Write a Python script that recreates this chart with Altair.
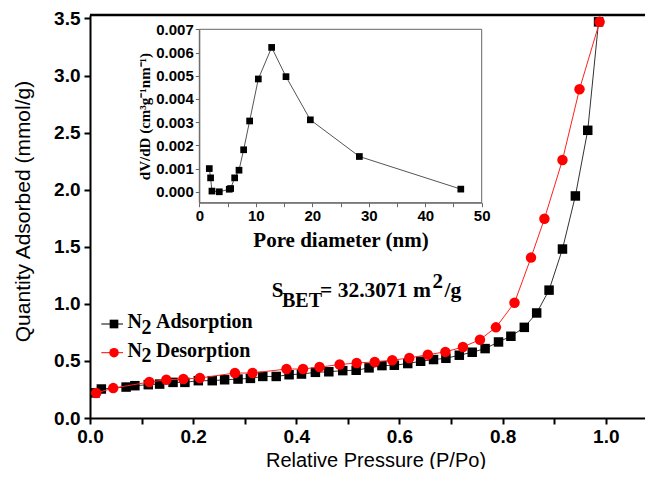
import altair as alt
import pandas as pd

# ---------------- data ----------------
ADS_P = [0.010, 0.022, 0.070, 0.087, 0.113, 0.135, 0.161, 0.184, 0.210, 0.237,
         0.261, 0.287, 0.311, 0.335, 0.361, 0.386, 0.410, 0.437, 0.463, 0.490,
         0.516, 0.541, 0.566, 0.590, 0.616, 0.641, 0.666, 0.690, 0.716, 0.741,
         0.766, 0.792, 0.816, 0.842, 0.866, 0.890, 0.916, 0.941, 0.965, 0.986]
ADS_Q = [0.220, 0.254, 0.271, 0.283, 0.292, 0.297, 0.312, 0.312, 0.327, 0.327,
         0.335, 0.341, 0.347, 0.364, 0.364, 0.379, 0.385, 0.400, 0.405, 0.415,
         0.418, 0.439, 0.459, 0.462, 0.477, 0.497, 0.512, 0.523, 0.550, 0.576,
         0.608, 0.666, 0.716, 0.794, 0.920, 1.120, 1.480, 1.945, 2.520, 3.470]

DES_P = [0.012, 0.045, 0.115, 0.148, 0.181, 0.213, 0.281, 0.315, 0.381, 0.413,
         0.445, 0.484, 0.517, 0.552, 0.586, 0.619, 0.655, 0.689, 0.723, 0.756,
         0.787, 0.823, 0.855, 0.881, 0.916, 0.949, 0.988]
DES_Q = [0.219, 0.262, 0.315, 0.335, 0.341, 0.350, 0.394, 0.394, 0.429, 0.429,
         0.446, 0.468, 0.482, 0.491, 0.506, 0.526, 0.555, 0.579, 0.622, 0.686,
         0.794, 1.010, 1.405, 1.745, 2.260, 2.880, 3.470]

PORE_D = [1.77, 2.00, 2.24, 3.54, 5.30, 5.55, 6.26, 7.03, 7.85, 8.91,
          10.45, 12.81, 15.35, 19.66, 28.34, 46.30]
PORE_DV = [0.00100, 0.00060, 0.00003, 0.00000, 0.00011, 0.00014, 0.00060,
           0.00093, 0.00181, 0.00305, 0.00486, 0.00622, 0.00496, 0.00310,
           0.00152, 0.000115]

X_TICKS = [0.0, 0.1, 0.2, 0.3, 0.4, 0.5, 0.6, 0.7, 0.8, 0.9, 1.0]
Y_TICKS = [0.0, 0.25, 0.5, 0.75, 1.0, 1.25, 1.5, 1.75, 2.0, 2.25, 2.5, 2.75,
           3.0, 3.25, 3.5]
IX_TICKS = [0, 5, 10, 15, 20, 25, 30, 35, 40, 45, 50]
IY_TICKS = [0.0, 0.0005, 0.001, 0.0015, 0.002, 0.0025, 0.003, 0.0035, 0.004,
            0.0045, 0.005, 0.0055, 0.006, 0.0065, 0.007]

SERIES = ["Adsorption", "Desorption"]
SBET = ["S", "BET", "= 32.3071 m", "2", "/g"]

# ---------------- layout ----------------
W, H = 555, 403
XMAX, YMAX = 1.076, 3.53
IYMIN, IYMAX = -0.00047, 0.007
INSET_X = [109.3, 391.7]
INSET_Y = [187.7, 14.3]

ads = pd.DataFrame({"p": ADS_P, "q": ADS_Q})
des = pd.DataFrame({"p": DES_P, "q": DES_Q})
pore = pd.DataFrame({"d": PORE_D, "v": PORE_DV})

xs = alt.Scale(domain=[0, XMAX], nice=False, zero=False)
ys = alt.Scale(domain=[0, YMAX], nice=False)

SANS = "Liberation Sans"
SERIF = "Liberation Serif"

xaxis = alt.Axis(values=X_TICKS, labelExpr="round(datum.value*10) % 2 == 0 ? format(datum.value, '.1f') : ''",
                 orient="bottom", grid=False, domainColor="black", domainWidth=2,
                 tickColor="black", tickWidth=2, tickSize=6,
                 labelFont=SANS, labelFontWeight="bold", labelFontSize=19, labelColor="black",
                 labelPadding=3, labelFlush=False,
                 title="Relative Pressure (P/Po)", titleFont=SANS, titleFontSize=20,
                 titleFontWeight="normal", titleColor="black",
                 titleBaseline="alphabetic", titleY=48, titleX=W / 2 + 8, titleAnchor="middle")
yaxis = alt.Axis(values=Y_TICKS, labelExpr="round(datum.value*4) % 2 == 0 ? format(datum.value, '.1f') : ''",
                 orient="left", grid=False, domainColor="black", domainWidth=2,
                 tickColor="black", tickWidth=2, tickSize=6,
                 labelFont=SANS, labelFontWeight="bold", labelFontSize=19, labelColor="black",
                 labelPadding=4, labelFlush=False,
                 title="Quantity Adsorbed (mmol/g)", titleFont=SANS, titleFontSize=21,
                 titleFontWeight="normal", titleColor="black",
                 titleBaseline="middle", titleX=-67, titleY=196, titleAnchor="middle")

base_a = alt.Chart(ads).encode(x=alt.X("p:Q", scale=xs, axis=xaxis),
                               y=alt.Y("q:Q", scale=ys, axis=yaxis))
base_d = alt.Chart(des).encode(x="p:Q", y="q:Q")

ads_line = base_a.mark_line(color="#333333", strokeWidth=1)
ads_pts = base_a.mark_point(shape="square", filled=True, color="black", size=90, opacity=1)
des_line = base_d.mark_line(color="#ff2020", strokeWidth=1)
des_pts = base_d.mark_point(shape="circle", filled=True, color="#ff0000", size=110, opacity=1)

top_rule = alt.Chart(pd.DataFrame({"k": [0]})).mark_rule(color="black", strokeWidth=2.5).encode(
    x=alt.datum(0), x2=alt.datum(XMAX), y=alt.datum(YMAX))

# S_BET annotation
tbl = pd.DataFrame({"t": [0]})
def txt(s, x, y, size=20):
    return alt.Chart(tbl).mark_text(text=s, font=SERIF, fontWeight="bold", fontSize=size,
                                    align="left", baseline="alphabetic", color="black").encode(
        x=alt.value(x), y=alt.value(y))

annots = [txt(SBET[0], 181.7, 281.7, 21), txt(SBET[1], 192, 291.7, 20), txt(SBET[2], 230, 281.7, 21.5),
          txt(SBET[3], 342.5, 273, 21), txt(SBET[4], 354.5, 281.7, 21.5)]

# manual legend
leg = []
for i, (col, shp) in enumerate([("black", "square"), ("#ff0000", "circle")]):
    yy = 309 + i * 28.7
    leg.append(alt.Chart(tbl).mark_rule(color=col, strokeWidth=1).encode(
        x=alt.value(11.3), x2=alt.value(33), y=alt.value(yy)))
    leg.append(alt.Chart(tbl).mark_point(shape=shp, filled=True, color=col,
                                         size=75 if shp == "square" else 90, opacity=1).encode(
        x=alt.value(24), y=alt.value(yy)))
    leg.append(txt("N", 37.5, yy + 4.3, 20))
    leg.append(txt("2", 51.5, yy + 9.5, 20))
    leg.append(txt(SERIES[i], 66, yy + 4.3, 20))

main = alt.layer(ads_line, ads_pts, des_line, des_pts, top_rule, *annots, *leg)

# ---------------- inset ----------------
ixs = alt.Scale(domain=[0, 50], range=INSET_X, nice=False, zero=False)
iys = alt.Scale(domain=[IYMIN, IYMAX], range=INSET_Y, nice=False, zero=False)
ixaxis = alt.Axis(values=IX_TICKS, labelExpr="datum.value % 10 == 0 ? format(datum.value, 'd') : ''",
                  orient="bottom", offset=-(H - INSET_Y[0]), grid=False,
                  domainColor="#666666", domainWidth=1, tickColor="#666666", tickWidth=1, tickSize=4,
                  labelFont=SANS, labelFontWeight="bold", labelFontSize=15, labelColor="black",
                  labelPadding=2, labelFlush=False,
                  title="Pore diameter (nm)", titleFont=SERIF, titleFontWeight="bold",
                  titleFontSize=21, titleColor="black", titlePadding=6)
iyaxis = alt.Axis(values=IY_TICKS, labelExpr="round(datum.value*2000) % 2 == 0 ? format(datum.value, '.3f') : ''",
                  orient="left", offset=-INSET_X[0], grid=False,
                  domainColor="#666666", domainWidth=1, tickColor="#666666", tickWidth=1, tickSize=4,
                  labelFont=SANS, labelFontWeight="bold", labelFontSize=15, labelColor="black",
                  labelPadding=2, labelFlush=False,
                  title="dV/dD (cm³g⁻¹nm⁻¹)", titleFont=SERIF, titleFontWeight="bold",
                  titleFontSize=15, titleColor="black", titlePadding=3)

ibase = alt.Chart(pore).encode(x=alt.X("d:Q", scale=ixs, axis=ixaxis),
                               y=alt.Y("v:Q", scale=iys, axis=iyaxis))
iline = ibase.mark_line(color="#555555", strokeWidth=1)
ipts = ibase.mark_point(shape="square", filled=True, color="black", size=45, opacity=1)
iframe = alt.Chart(tbl).mark_rect(fillOpacity=0, stroke="#666666", strokeWidth=1).encode(
    x=alt.datum(0), x2=alt.datum(50), y=alt.datum(IYMIN), y2=alt.datum(IYMAX))
inset = alt.layer(iframe, iline, ipts)

chart = alt.layer(main, inset).resolve_scale(x="independent", y="independent").properties(
    width=W, height=H,
    autosize=alt.AutoSizeParams(type="none"),
    padding={"left": 82, "top": 7, "right": 0, "bottom": 51},
).configure_view(stroke=None).configure(background="white")

chart.save("out.html", embed_options={"renderer": "svg", "actions": False})
